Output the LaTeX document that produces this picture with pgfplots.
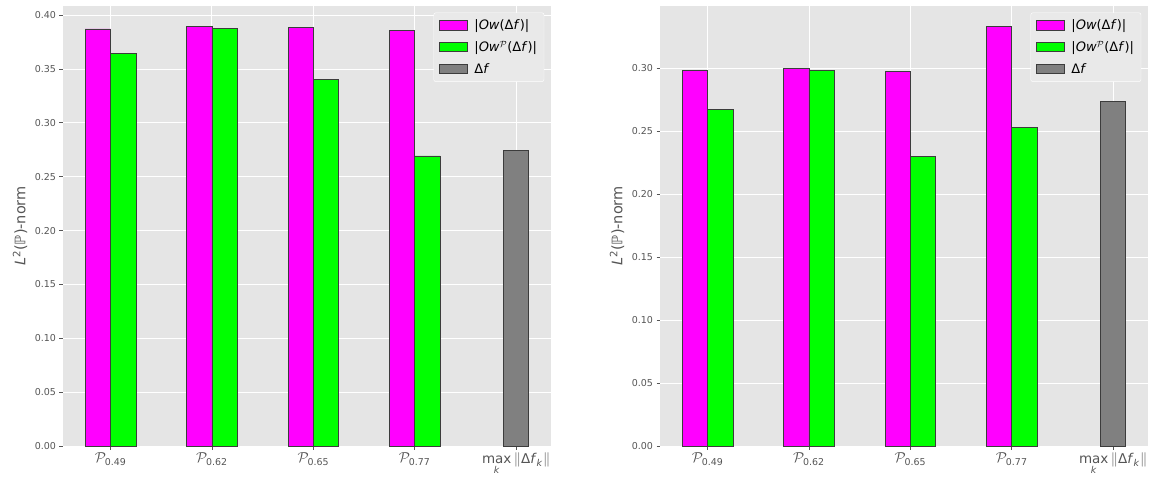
\documentclass[border=0pt]{standalone}
\usepackage{fontspec}
\setmainfont{DejaVu Sans}
\usepackage{amsmath}
\usepackage{pgfplots}
\pgfplotsset{compat=1.18}
\definecolor{bg}{RGB}{229,229,229}
\definecolor{lg}{RGB}{233,233,233}
\definecolor{tk}{RGB}{85,85,85}
\definecolor{mag}{RGB}{255,0,255}
\definecolor{grn}{RGB}{0,255,0}
\definecolor{gry}{RGB}{128,128,128}
\definecolor{edge}{RGB}{60,60,60}

\pgfplotsset{
 mystyle/.style={
  scale only axis, width=488pt, height=440pt,
  axis background/.style={fill=bg},
  axis line style={draw=none},
  xmin=-0.469, xmax=4.344, ymin=0,
  xtick={0,1,2,3,4},
  xticklabels={{$\mathcal{P}_{\text{0.49}}$},{$\mathcal{P}_{\text{0.62}}$},{$\mathcal{P}_{\text{0.65}}$},{$\mathcal{P}_{\text{0.77}}$},{$\mathop{\text{max}}\limits_{\text{\textit{k}}}\|\text{Δ\textit{f}}_{\text{\textit{k}}}\|$}},
  tick align=outside, tick pos=left,
  major tick length=3.5pt,
  tick style={color=tk, line width=0.8pt},
  grid=major, grid style={white, line width=0.9pt},
  yticklabel style={font=\fontsize{9.5}{11}\selectfont, text=tk, /pgf/number format/fixed, /pgf/number format/precision=2, /pgf/number format/fixed zerofill, /pgf/number format/assume math mode=true},
  xticklabel style={font=\fontsize{13.5}{15}\selectfont, text=tk},
  ylabel={\textit{L}\textsuperscript{2}(ℙ)-norm},
  ylabel style={font=\fontsize{14.5}{16}\selectfont, text=tk, at={(axis description cs:-0.088,0.5)}, anchor=center},
  legend style={at={(axis description cs:0.986,0.985)}, anchor=north east, fill=lg, draw=white, rounded corners=2pt, font=\fontsize{13}{15}\selectfont, text=black, row sep=6pt, inner xsep=5pt, inner ysep=5pt, cells={anchor=west}},
 },
 barM/.style={ybar, bar width=25.3pt, bar shift=-12.66pt, fill=mag, draw=edge, line width=0.6pt,
   legend image code/.code={\draw[sharp corners, fill=mag, draw=edge, line width=0.6pt] (0pt,-4.5pt) rectangle (28pt,5pt); \path (33pt,0pt);}},
 barG/.style={ybar, bar width=25.3pt, bar shift=12.66pt, fill=grn, draw=edge, line width=0.6pt,
   legend image code/.code={\draw[sharp corners, fill=grn, draw=edge, line width=0.6pt] (0pt,-4.5pt) rectangle (28pt,5pt); \path (33pt,0pt);}},
 barD/.style={ybar, bar width=25.3pt, bar shift=0pt, fill=gry, draw=edge, line width=0.6pt,
   legend image code/.code={\draw[sharp corners, fill=gry, draw=edge, line width=0.6pt] (0pt,-4.5pt) rectangle (28pt,5pt); \path (33pt,0pt);}},
}

\begin{document}
\begin{tikzpicture}
\useasboundingbox (0,0) rectangle (1151pt,479pt);
\begin{axis}[mystyle, at={(63pt,33pt)}, anchor=south west, ymax=0.4085,
  ytick={0,0.05,0.10,0.15,0.20,0.25,0.30,0.35,0.40}]
\addplot[barM] coordinates {(0,0.3872) (1,0.3893) (2,0.3887) (3,0.3860)};
\addlegendentry{|\textit{Ow}(Δ\textit{f})|}
\addplot[barG] coordinates {(0,0.3646) (1,0.3878) (2,0.3400) (3,0.2693)};
\addlegendentry{|\textit{Ow}$^{\mathcal{P}}$(Δ\textit{f})|}
\addplot[barD] coordinates {(4,0.2745)};
\addlegendentry{Δ\textit{f}}
\end{axis}
\begin{axis}[mystyle, at={(660pt,33pt)}, anchor=south west, ymax=0.3495,
  ytick={0,0.05,0.10,0.15,0.20,0.25,0.30}]
\addplot[barM] coordinates {(0,0.2984) (1,0.3000) (2,0.2978) (3,0.3330)};
\addlegendentry{|\textit{Ow}(Δ\textit{f})|}
\addplot[barG] coordinates {(0,0.2674) (1,0.2984) (2,0.2301) (3,0.2531)};
\addlegendentry{|\textit{Ow}$^{\mathcal{P}}$(Δ\textit{f})|}
\addplot[barD] coordinates {(4,0.2740)};
\addlegendentry{Δ\textit{f}}
\end{axis}
\end{tikzpicture}
\end{document}
